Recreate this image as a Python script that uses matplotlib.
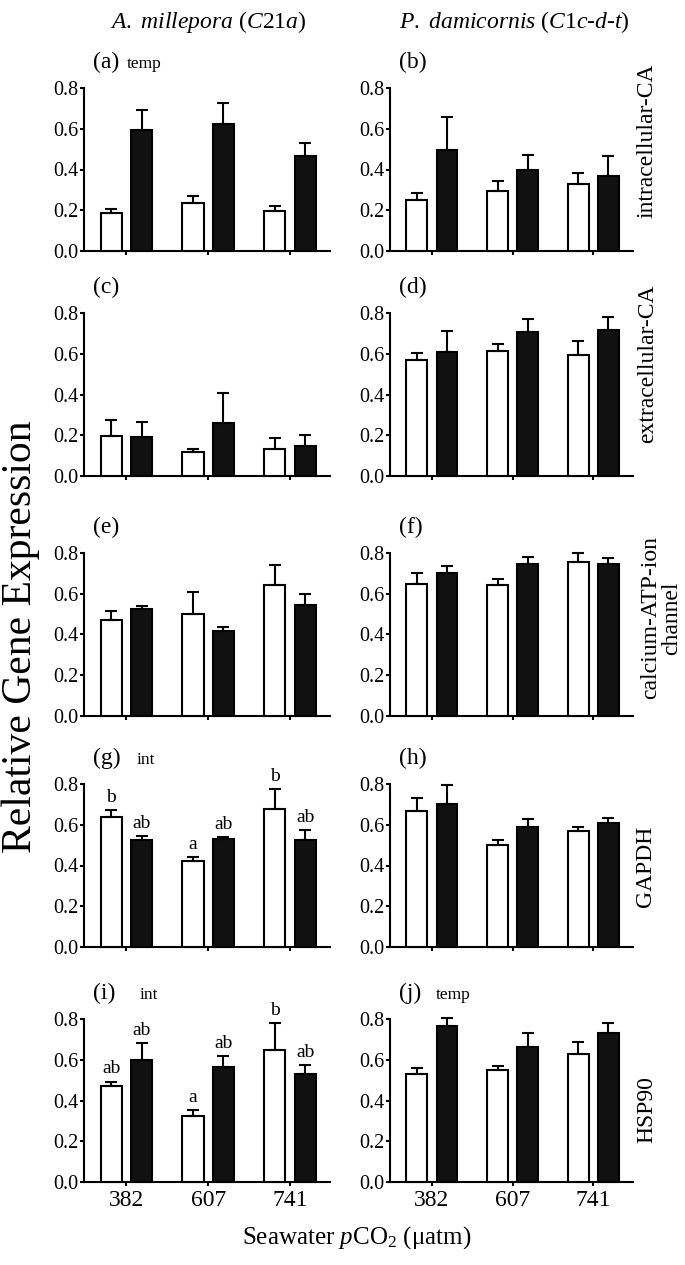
"""Relative gene expression of symbiont genes in two coral hosts across seawater pCO2."""

import matplotlib
matplotlib.use("Agg")
import matplotlib.pyplot as plt
import numpy as np

plt.rcParams["font.family"] = ["Liberation Serif", "DejaVu Serif"]
plt.rcParams["mathtext.fontset"] = "custom"
plt.rcParams["mathtext.rm"] = "Liberation Serif"
plt.rcParams["mathtext.it"] = "Liberation Serif:italic"

pco2_labels = ["382", "607", "741"]
genes = ["intracellular-CA", "extracellular-CA", "calcium-ATP-ion\nchannel", "GAPDH", "HSP90"]

# A. millepora (left column): white / black bar means and standard errors
a_white = [0.187, 0.234, 0.197]
a_white_se = [0.020, 0.038, 0.024]
a_black = [0.595, 0.625, 0.464]
a_black_se = [0.098, 0.101, 0.064]

c_white = [0.194, 0.118, 0.133]
c_white_se = [0.080, 0.013, 0.053]
c_black = [0.189, 0.261, 0.146]
c_black_se = [0.077, 0.145, 0.054]

e_white = [0.470, 0.503, 0.643]
e_white_se = [0.044, 0.104, 0.097]
e_black = [0.524, 0.415, 0.544]
e_black_se = [0.018, 0.024, 0.055]

g_white = [0.636, 0.422, 0.677]
g_white_se = [0.038, 0.020, 0.099]
g_black = [0.523, 0.528, 0.526]
g_black_se = [0.021, 0.011, 0.049]

i_white = [0.469, 0.325, 0.649]
i_white_se = [0.024, 0.027, 0.130]
i_black = [0.597, 0.564, 0.528]
i_black_se = [0.083, 0.054, 0.047]

# P. damicornis (right column)
b_white = [0.248, 0.295, 0.327]
b_white_se = [0.039, 0.048, 0.054]
b_black = [0.497, 0.398, 0.368]
b_black_se = [0.163, 0.071, 0.097]

d_white = [0.568, 0.614, 0.593]
d_white_se = [0.036, 0.032, 0.071]
d_black = [0.609, 0.705, 0.719]
d_black_se = [0.101, 0.065, 0.061]

f_white = [0.649, 0.643, 0.754]
f_white_se = [0.053, 0.027, 0.046]
f_black = [0.700, 0.744, 0.744]
f_black_se = [0.036, 0.035, 0.031]

h_white = [0.667, 0.503, 0.569]
h_white_se = [0.063, 0.020, 0.022]
h_black = [0.704, 0.588, 0.607]
h_black_se = [0.091, 0.041, 0.027]

j_white = [0.530, 0.548, 0.627]
j_white_se = [0.030, 0.023, 0.060]
j_black = [0.766, 0.661, 0.733]
j_black_se = [0.041, 0.069, 0.049]

g_white_letters = ["b", "a", "b"]
g_black_letters = ["ab", "ab", "ab"]
i_white_letters = ["ab", "a", "b"]
i_black_letters = ["ab", "ab", "ab"]

panels = {
    "a": (a_white, a_white_se, a_black, a_black_se),
    "b": (b_white, b_white_se, b_black, b_black_se),
    "c": (c_white, c_white_se, c_black, c_black_se),
    "d": (d_white, d_white_se, d_black, d_black_se),
    "e": (e_white, e_white_se, e_black, e_black_se),
    "f": (f_white, f_white_se, f_black, f_black_se),
    "g": (g_white, g_white_se, g_black, g_black_se),
    "h": (h_white, h_white_se, h_black, h_black_se),
    "i": (i_white, i_white_se, i_black, i_black_se),
    "j": (j_white, j_white_se, j_black, j_black_se),
}
letters = {"g": (g_white_letters, g_black_letters), "i": (i_white_letters, i_black_letters)}
notes = {"a": ("temp", 34), "g": ("int", 44), "i": ("int", 47), "j": ("temp", 37)}

W, H = 685, 1265
fig = plt.figure(figsize=(W / 100, H / 100), dpi=100)

col_x = [(84, 330), (390, 633)]
row_y = [(88, 251), (313, 476), (553, 716), (784, 947), (1019, 1182)]
gene_pos = [(647, 141), (648, 364), (661, 618), (645, 866), (647, 1110)]

x = np.arange(3)
offset, width = 0.186, 0.26

for row in range(5):
    for col in range(2):
        key = "abcdefghij"[row * 2 + col]
        white, white_se, black, black_se = panels[key]
        x0, x1 = col_x[col]
        top, bottom = row_y[row]
        ax = fig.add_axes([x0 / W, 1 - bottom / H, (x1 - x0) / W, (bottom - top) / H])
        err_kw = dict(capsize=4, ecolor="black", elinewidth=1.5, capthick=1.5)
        ax.bar(x - offset, white, width, color="white", edgecolor="black", linewidth=1.5,
               yerr=[np.zeros(3), white_se], error_kw=err_kw, zorder=3)
        ax.bar(x + offset, black, width, color="#111111", edgecolor="black", linewidth=1.5,
               yerr=[np.zeros(3), black_se], error_kw=err_kw, zorder=3)
        for child in ax.get_children():
            child.set_clip_on(False)
        ax.set_xlim(-0.52, 2.49)
        ax.set_ylim(0, 0.8)
        ax.set_yticks([0.0, 0.2, 0.4, 0.6, 0.8])
        ax.set_yticklabels(["0.0", "0.2", "0.4", "0.6", "0.8"], fontsize=14.5)
        ax.set_xticks(x)
        if row == 4:
            ax.set_xticklabels(pco2_labels, fontsize=17)
        else:
            ax.set_xticklabels([])
        for side in ("top", "right"):
            ax.spines[side].set_visible(False)
        for side in ("left", "bottom"):
            ax.spines[side].set_linewidth(1.5)
        ax.tick_params(length=3, width=1.5, pad=1)
        ax.tick_params(axis="x", pad=3)
        ax.patch.set_visible(False)

        if key in letters:
            wl, bl = letters[key]
            for k in range(3):
                ax.annotate(wl[k], (x[k] - offset, white[k] + white_se[k]), xytext=(0, 3),
                            textcoords="offset points", ha="center", va="bottom", fontsize=14)
                ax.annotate(bl[k], (x[k] + offset, black[k] + black_se[k]), xytext=(0, 3),
                            textcoords="offset points", ha="center", va="bottom", fontsize=14)

        lx, ly = x0 + 9, top - 20
        fig.text(lx / W, 1 - ly / H, "(%s)" % key, fontsize=17, ha="left", va="baseline")
        if key in notes:
            word, dx = notes[key]
            fig.text((lx + dx) / W, 1 - ly / H, word, fontsize=12.5, ha="left", va="baseline")

    gx, gy = gene_pos[row]
    fig.text(gx / W, 1 - gy / H, genes[row], fontsize=17, rotation=90,
             ha="center", va="center", linespacing=1.0)

fig.text(208 / W, 1 - 22 / H, r"$\mathit{A.\ millepora}$ ($\mathit{C21a}$)",
         fontsize=17, ha="center", va="center")
fig.text(514 / W, 1 - 22 / H, r"$\mathit{P.\ damicornis}$ ($\mathit{C1c}$-$\mathit{d}$-$\mathit{t}$)",
         fontsize=17, ha="center", va="center")
fig.text(21 / W, 1 - 637 / H, "Relative Gene Expression", fontsize=30, rotation=90,
         ha="center", va="center")
fig.text(357 / W, 1 - 1238 / H, r"Seawater $p$CO$_2$ (μatm)", fontsize=18,
         ha="center", va="center")

fig.savefig("out.png", dpi=100)
